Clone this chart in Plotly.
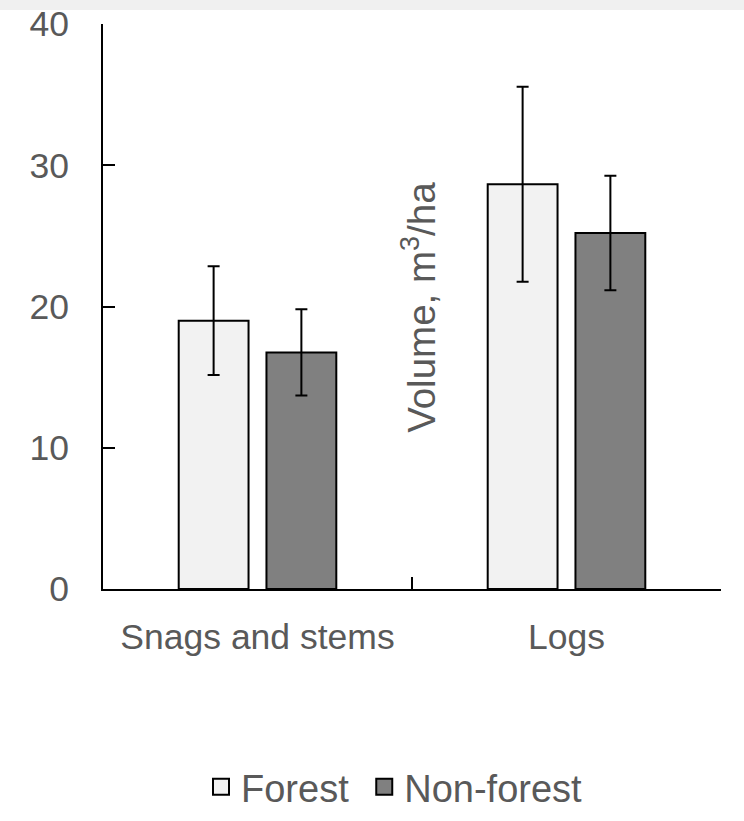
import plotly.graph_objects as go

categories = ["Snags and stems", "Logs"]
forest = [19.0, 28.65]
forest_err = [3.85, 6.9]
nonforest = [16.75, 25.2]
nonforest_err = [3.05, 4.05]
yticks = [0, 10, 20, 30, 40]
series_names = ["Forest", "Non-forest"]

FONT = "Liberation Sans"
GRAY = "#595959"
FOREST_COLOR = "#f2f2f2"
NONFOREST_COLOR = "#808080"

fig = go.Figure()
fig.add_trace(go.Bar(
    name=series_names[0], x=categories, y=forest, showlegend=False,
    error_y=dict(type="data", array=forest_err, color="black", thickness=2, width=6),
    marker=dict(color=FOREST_COLOR, line=dict(color="black", width=2)),
    width=0.226, offset=-0.255,
))
fig.add_trace(go.Bar(
    name=series_names[1], x=categories, y=nonforest, showlegend=False,
    error_y=dict(type="data", array=nonforest_err, color="black", thickness=2, width=6),
    marker=dict(color=NONFOREST_COLOR, line=dict(color="black", width=2)),
    width=0.226, offset=0.029,
))
# legend entries with larger square symbols
for name, col, pad in [(series_names[0], FOREST_COLOR, "\u00a0"),
                       (series_names[1], NONFOREST_COLOR, "")]:
    fig.add_trace(go.Scatter(
        name=name + pad, x=[None], y=[None], mode="markers",
        marker=dict(symbol="square", size=18, color=col, line=dict(color="black", width=2)),
    ))

fig.update_layout(
    width=744, height=821,
    barmode="overlay",
    paper_bgcolor="white", plot_bgcolor="white",
    margin=dict(l=103, r=23, t=24, b=232),
    font=dict(family=FONT, size=35, color=GRAY),
    showlegend=True,
    legend=dict(orientation="h", x=(394.5 - 103) / 618, xanchor="center",
                yref="container", y=0.003, yanchor="bottom",
                font=dict(family=FONT, size=38, color=GRAY), itemwidth=30),
    xaxis=dict(
        range=[-0.5, 1.5], showline=True, linecolor="black", linewidth=2,
        ticks="inside", tickson="boundaries", ticklen=12, tickwidth=2, tickcolor="black",
        showgrid=False, zeroline=False, ticklabelstandoff=15, automargin=False,
        tickfont=dict(size=35.5),
    ),
    yaxis=dict(
        range=[0, 40], tickvals=yticks, showline=True, linecolor="black", linewidth=2,
        ticks="inside", ticklen=12, tickwidth=2, tickcolor="black",
        showgrid=False, zeroline=False, ticklabelstandoff=25, automargin=False,
        tickfont=dict(size=35.5),
    ),
    annotations=[dict(
        text="Volume, m<sup>3</sup>/ha", textangle=-90,
        xref="paper", yref="paper", x=(419 - 103) / 618, y=(589.3 - 308) / 565.3,
        xanchor="center", yanchor="middle", showarrow=False,
        font=dict(family=FONT, size=38.5, color=GRAY),
    )],
    shapes=[dict(
        type="rect", xref="paper", yref="paper",
        x0=-103 / 618, x1=1 + 23 / 618, y0=1 + 14 / 565.3, y1=1 + 24 / 565.3,
        fillcolor="#f0f0f0", line=dict(width=0), layer="below",
    )],
)

fig.write_html(
    "out.html",
    config={"displayModeBar": False},
    post_script="document.body.style.margin='0';document.body.style.overflow='hidden';",
)
